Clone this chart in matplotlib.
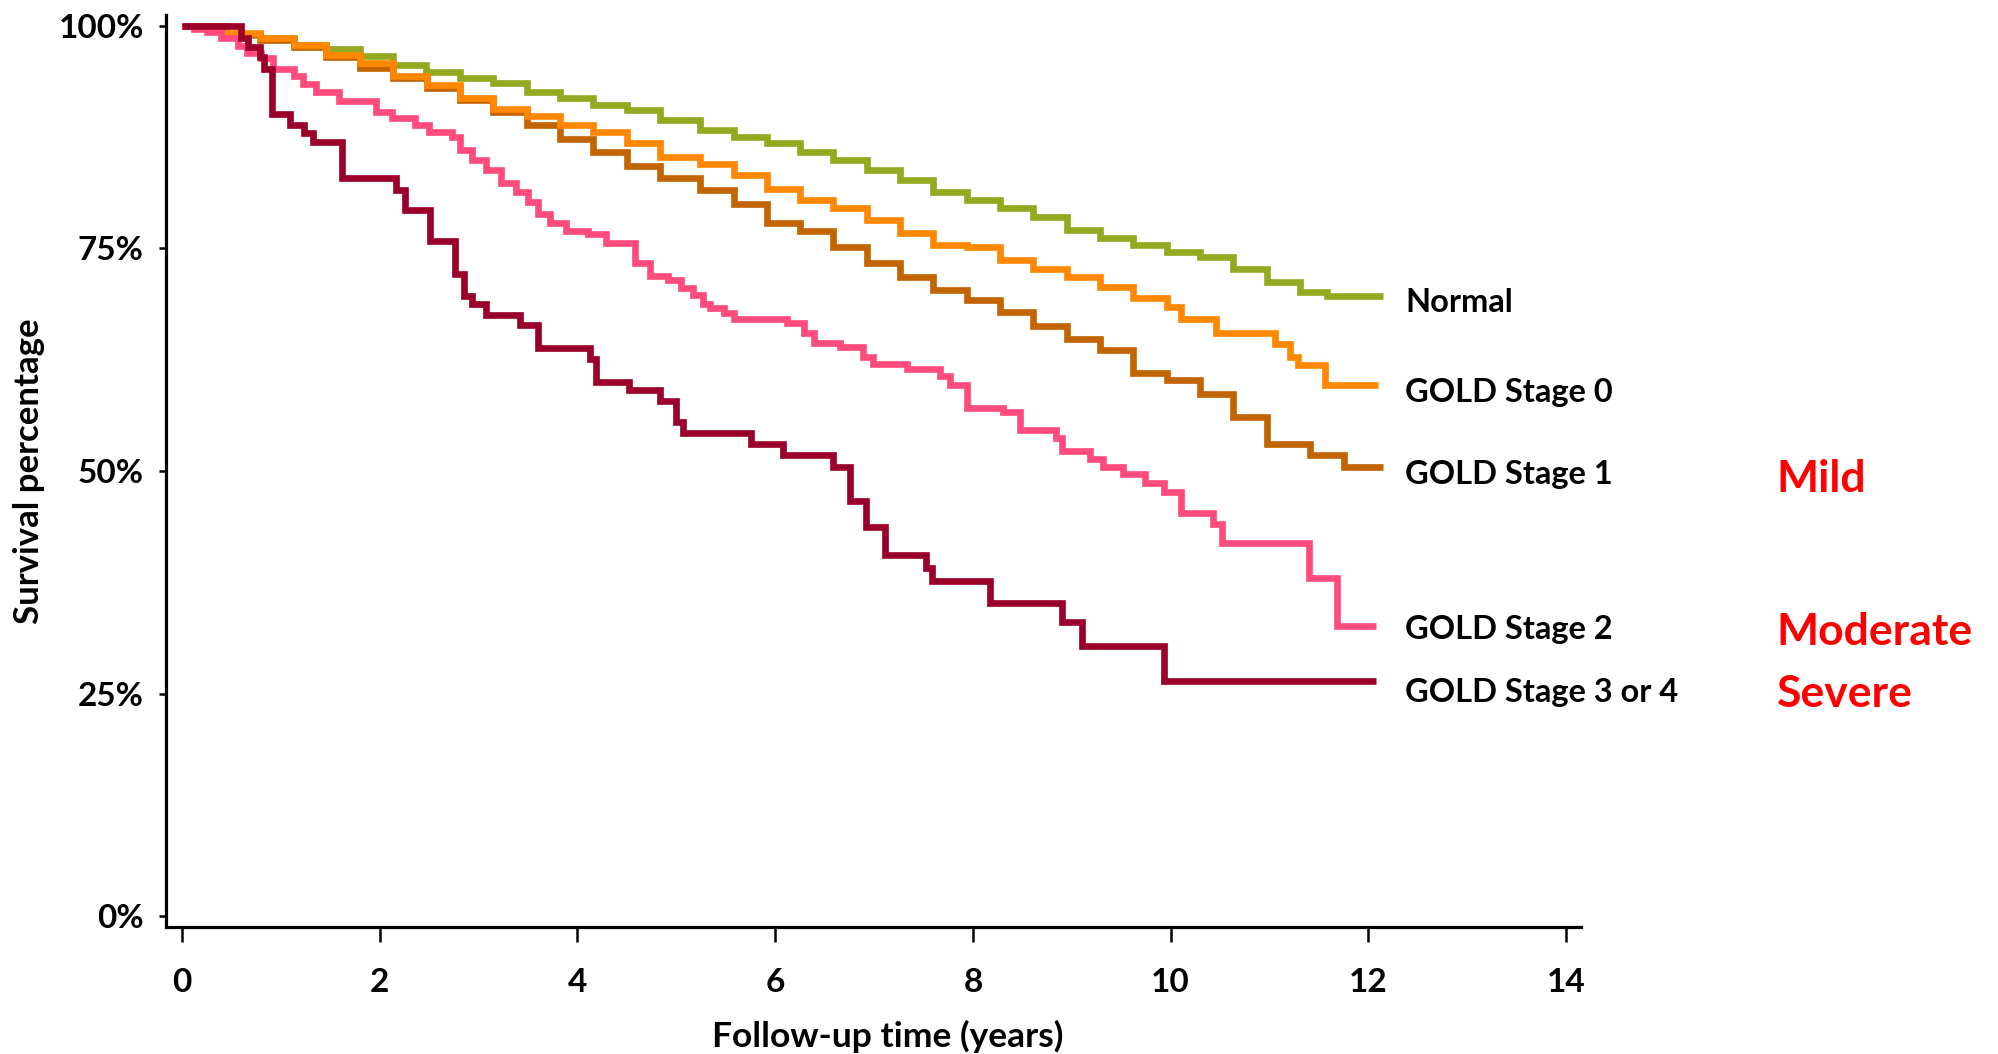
import matplotlib
matplotlib.use('Agg')
import matplotlib.pyplot as plt

plt.rcParams['font.family'] = ['Lato', 'DejaVu Sans']
plt.rcParams['font.weight'] = 'bold'

# ---------------- data ----------------
years_normal = [0, 0.45, 0.79, 1.13, 1.46, 1.80, 2.14, 2.47, 2.81, 3.15, 3.49, 3.82,
                4.16, 4.50, 4.84, 5.24, 5.58, 5.92, 6.25, 6.59, 6.93, 7.26, 7.60, 7.94,
                8.27, 8.61, 8.95, 9.29, 9.62, 9.96, 10.30, 10.63, 10.97, 11.31, 11.58, 12.15]
surv_normal = [100, 99.0, 98.6, 97.8, 97.4, 96.6, 95.6, 94.8, 94.1, 93.6, 92.6, 91.9,
               91.1, 90.5, 89.4, 88.3, 87.5, 86.8, 85.8, 84.9, 83.8, 82.7, 81.3, 80.4,
               79.5, 78.5, 77.1, 76.2, 75.4, 74.6, 74.0, 72.7, 71.2, 70.1, 69.6, 69.6]

years_gold0 = [0, 0.45, 0.79, 1.13, 1.46, 1.80, 2.14, 2.48, 2.81, 3.15, 3.49, 3.82,
               4.16, 4.50, 4.84, 5.24, 5.58, 5.92, 6.25, 6.59, 6.93, 7.26, 7.60, 7.94,
               8.27, 8.61, 8.95, 9.29, 9.62, 9.96, 10.10, 10.46, 11.06, 11.21, 11.29, 11.56, 12.10]
surv_gold0 = [100, 99.2, 98.6, 97.8, 96.7, 95.8, 94.4, 93.3, 91.9, 90.7, 89.9, 88.8,
              88.1, 86.8, 85.3, 84.5, 83.2, 81.7, 80.4, 79.5, 78.2, 76.7, 75.4, 75.2,
              73.7, 72.7, 71.8, 70.7, 69.4, 68.4, 67.1, 65.5, 64.3, 62.8, 61.9, 59.7, 59.7]

years_gold1 = [0, 0.45, 0.79, 1.13, 1.46, 1.80, 2.14, 2.48, 2.81, 3.15, 3.49, 3.82,
               4.16, 4.50, 4.84, 5.24, 5.58, 5.92, 6.25, 6.59, 6.93, 7.26, 7.60, 7.94,
               8.27, 8.61, 8.95, 9.29, 9.62, 9.96, 10.30, 10.63, 10.97, 11.41, 11.75, 12.15]
surv_gold1 = [100, 99.1, 98.4, 97.6, 96.5, 95.2, 94.1, 93.0, 91.7, 90.3, 88.8, 87.3,
              85.8, 84.3, 82.9, 81.5, 80.0, 77.8, 76.9, 75.2, 73.3, 71.8, 70.3, 69.2,
              67.8, 66.3, 64.8, 63.6, 61.0, 60.2, 58.7, 56.1, 53.0, 51.8, 50.5, 50.5]

years_gold2 = [0, 0.12, 0.25, 0.40, 0.57, 0.66, 0.80, 0.92, 1.13, 1.23, 1.36, 1.59, 1.96,
               2.13, 2.36, 2.50, 2.73, 2.81, 2.93, 3.08, 3.23, 3.38, 3.50, 3.60, 3.72, 3.89,
               4.11, 4.29, 4.58, 4.73, 4.92, 5.05, 5.17, 5.27, 5.34, 5.48, 5.58, 6.12, 6.29,
               6.39, 6.66, 6.89, 6.99, 7.33, 7.67, 7.77, 7.94, 8.30, 8.48, 8.84, 8.90, 9.18,
               9.32, 9.52, 9.74, 9.93, 10.10, 10.43, 10.52, 11.40, 11.68, 12.08]
surv_gold2 = [100, 99.6, 99.3, 98.6, 97.7, 96.9, 96.4, 95.1, 94.4, 93.5, 92.6, 91.6, 90.3,
              89.6, 88.8, 88.1, 87.5, 86.0, 84.9, 83.8, 82.3, 81.3, 80.2, 78.9, 77.8, 77.0,
              76.6, 75.6, 73.3, 71.9, 71.4, 70.5, 69.8, 68.8, 68.3, 67.7, 67.1, 66.6, 65.5,
              64.4, 63.9, 62.8, 62.0, 61.4, 60.7, 59.7, 57.1, 56.6, 54.6, 53.7, 52.2, 51.4,
              50.5, 49.7, 48.6, 47.6, 45.3, 44.1, 41.9, 38.0, 32.6, 32.6]

years_gold34 = [0, 0.60, 0.67, 0.79, 0.83, 0.91, 1.09, 1.24, 1.33, 1.62, 2.17, 2.26, 2.51,
                2.76, 2.85, 2.93, 3.08, 3.42, 3.60, 4.13, 4.19, 4.52, 4.84, 5.00, 5.07, 5.76,
                6.08, 6.59, 6.76, 6.92, 7.11, 7.53, 7.59, 8.17, 8.90, 9.10, 9.93, 12.08]
surv_gold34 = [100, 98.6, 97.6, 96.5, 95.1, 90.1, 88.8, 87.9, 86.9, 82.9, 81.6, 79.3, 75.8,
               72.1, 69.6, 68.8, 67.5, 66.4, 63.8, 62.6, 60.0, 59.1, 57.9, 55.5, 54.3, 53.0,
               51.8, 50.5, 46.6, 43.7, 40.6, 39.1, 37.6, 35.2, 33.0, 30.4, 26.4, 26.4]

series_labels = ['Normal', 'GOLD Stage 0', 'GOLD Stage 1', 'GOLD Stage 2', 'GOLD Stage 3 or 4']
severity_labels = ['Mild', 'Moderate', 'Severe']
x_ticks = [0, 2, 4, 6, 8, 10, 12, 14]
y_ticks = [0, 25, 50, 75, 100]
y_tick_labels = ['0%', '25%', '50%', '75%', '100%']
x_label = 'Follow-up time (years)'
y_label = 'Survival percentage'

# ---------------- drawing ----------------
W, H = 1998, 1054
fig = plt.figure(figsize=(W / 100, H / 100), dpi=100)
ax = fig.add_axes([166 / W, 1 - 927 / H, (1581 - 166) / W, (927 - 15) / H])
ax.set_xlim(-0.16, 14.15)
ax.set_ylim(-1.2, 101.2)

colors = {'Normal': '#94A820', 'GOLD Stage 0': '#FF8800', 'GOLD Stage 1': '#C26400',
          'GOLD Stage 2': '#FF4C7C', 'GOLD Stage 3 or 4': '#9A0029'}
data = {'Normal': (years_normal, surv_normal),
        'GOLD Stage 0': (years_gold0, surv_gold0),
        'GOLD Stage 1': (years_gold1, surv_gold1),
        'GOLD Stage 2': (years_gold2, surv_gold2),
        'GOLD Stage 3 or 4': (years_gold34, surv_gold34)}
draw_order = ['Normal', 'GOLD Stage 1', 'GOLD Stage 0', 'GOLD Stage 2', 'GOLD Stage 3 or 4']
for name in draw_order:
    t, s = data[name]
    ax.step(t, s, where='post', color=colors[name], lw=4.8,
            solid_joinstyle='miter', solid_capstyle='butt', clip_on=False)

# series labels (baseline positions in data units)
label_base = [67.85, 57.8, 48.5, 31.1, 24.1]
for name, yb in zip(series_labels, label_base):
    ax.text(12.37, yb, name, fontsize=23.5, fontweight='bold', color='black',
            ha='left', va='baseline', clip_on=False)

sev_base = [47.6, 30.5, 23.5]
for name, yb in zip(severity_labels, sev_base):
    ax.text(16.13, yb, name, fontsize=32, fontweight='bold', color='#FF0000',
            ha='left', va='baseline', clip_on=False)

for side in ['top', 'right']:
    ax.spines[side].set_visible(False)
for side in ['left', 'bottom']:
    ax.spines[side].set_linewidth(2.3)
    ax.spines[side].set_color('black')

ax.set_xticks(x_ticks)
ax.set_xticklabels([str(v) for v in x_ticks])
ax.set_yticks(y_ticks)
ax.set_yticklabels(y_tick_labels)
ax.tick_params(axis='y', length=5, width=1.8, pad=11, labelsize=24, direction='out')
ax.tick_params(axis='x', length=10.8, width=1.8, pad=19, labelsize=24, direction='out')
for lab in ax.get_xticklabels() + ax.get_yticklabels():
    lab.set_fontweight('bold')

fig.text(888 / W, 1 - 1047 / H, x_label, fontsize=25.5, fontweight='bold',
         ha='center', va='baseline')
fig.text(29 / W, 1 - 471 / H, y_label, fontsize=25, fontweight='bold',
         ha='center', va='center', rotation=90)

fig.savefig('out.png', dpi=100, facecolor='white')
